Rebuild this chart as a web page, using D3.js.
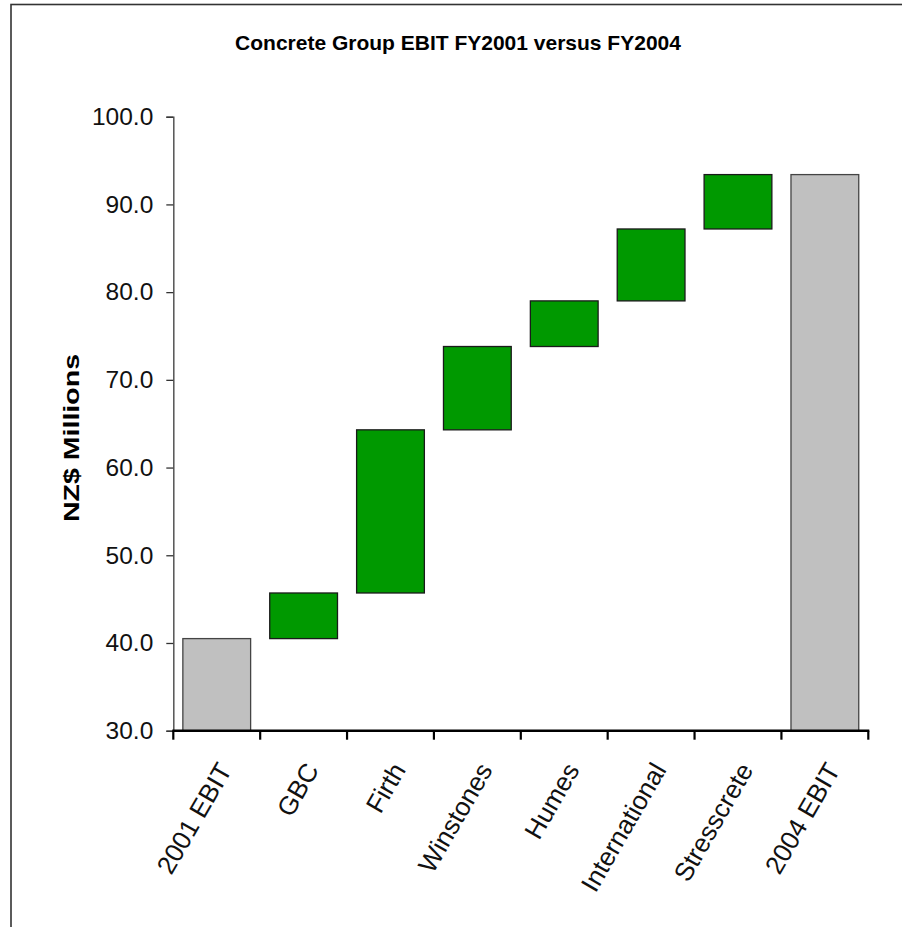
<!DOCTYPE html>
<html>
<head>
<meta charset="utf-8">
<script src="https://cdn.jsdelivr.net/npm/d3@7"></script>
<style>
body {margin:0; background:#fff;}
svg {display:block; font-family:"Liberation Sans", Arial, sans-serif;}
</style>
</head>
<body>
<svg></svg>
<script>
// waterfall: EBIT bridge 2001 -> 2004
var categories=["2001 EBIT","GBC","Firth","Winstones","Humes","International","Stresscrete","2004 EBIT"];
var barStart=[null,40.5,45.7,64.3,73.8,79.0,87.2,null];   // null = total bar from axis
var barEnd=[40.5,45.7,64.3,73.8,79.0,87.2,93.4,93.4];
var yTicks=[30,40,50,60,70,80,90,100];

var width=902, height=927;
// note: "top" is taken by window.top, so plot* names
var plotLeft=173.3, plotRight=868.3, plotTop=116.7, plotBottom=730.7;

var svg=d3.select("svg").attr("width",width).attr("height",height);

// outer frame (runs off right and bottom)
svg.append("rect")
	.attr("x",11).attr("y",4.5)
	.attr("width",1000).attr("height",1000)
	.attr("fill","none").attr("stroke","#333").attr("stroke-width",1.6);

var x=d3.scaleBand().domain(categories).range([plotLeft,plotRight])
	.paddingInner(0.22).paddingOuter(0.11);
var y=d3.scaleLinear().domain([30,100]).range([plotBottom,plotTop]);

svg.append("text")
	.attr("x",458).attr("y",49.5)
	.attr("text-anchor","middle")
	.style("font-size","21px").style("font-weight","bold")
	.text("Concrete Group EBIT FY2001 versus FY2004");

// bars
svg.selectAll(".bar").data(categories).enter()
	.append("rect")
	.classed("bar",true)
	.attr("x",function(d) {return x(d);})
	.attr("width",x.bandwidth())
	.attr("y",function(d,i) {return y(barEnd[i]);})
	.attr("height",function(d,i) {
		var s=barStart[i]==null ? y.domain()[0] : barStart[i];
		return y(s)-y(barEnd[i]);
	})
	.attr("fill",function(d,i) {return barStart[i]==null ? "#c0c0c0" : "#009900";})
	.attr("stroke",function(d,i) {return barStart[i]==null ? "#444" : "#1a1a1a";})
	.attr("stroke-width",1.3);

// y axis
var yAxis=svg.append("g")
	.attr("transform","translate("+plotLeft+",0)")
	.call(d3.axisLeft(y).tickValues(yTicks).tickFormat(d3.format(".1f")).tickSize(7).tickPadding(13));
yAxis.select(".domain").attr("stroke","#555").attr("stroke-width",1.5);
yAxis.selectAll(".tick line").attr("stroke","#333").attr("stroke-width",1.3);
yAxis.selectAll(".tick text")
	.style("font-size","24.5px").style("font-family","\"Liberation Sans\", Arial, sans-serif")
	.attr("fill","#111");

// x axis, ticks on category boundaries
var step=x.step();
var bounds=d3.range(categories.length+1).map(function(i) {return plotLeft+i*step;});
svg.append("line")
	.attr("x1",plotLeft-1).attr("x2",plotRight+1)
	.attr("y1",plotBottom).attr("y2",plotBottom)
	.attr("stroke","#000").attr("stroke-width",2.6);
svg.selectAll(".xtick").data(bounds).enter()
	.append("line")
	.attr("x1",function(d) {return d;}).attr("x2",function(d) {return d;})
	.attr("y1",plotBottom).attr("y2",plotBottom+9)
	.attr("stroke","#000").attr("stroke-width",2.2);

svg.selectAll(".xlabel").data(categories).enter()
	.append("text")
	.attr("text-anchor","end")
	.attr("transform",function(d) {
		var cx=x(d)+x.bandwidth()/2+16;
		return "translate("+cx+","+(plotBottom+39)+") rotate(-60)";
	})
	.style("font-size","26px")
	.attr("fill","#111")
	.text(function(d) {return d;});

// y axis title
svg.append("text")
	.attr("transform","translate(78.5,438) rotate(-90)")
	.attr("text-anchor","middle")
	.attr("textLength",168).attr("lengthAdjust","spacingAndGlyphs")
	.style("font-size","22px").style("font-weight","bold")
	.text("NZ$ Millions");
</script>
</body>
</html>
